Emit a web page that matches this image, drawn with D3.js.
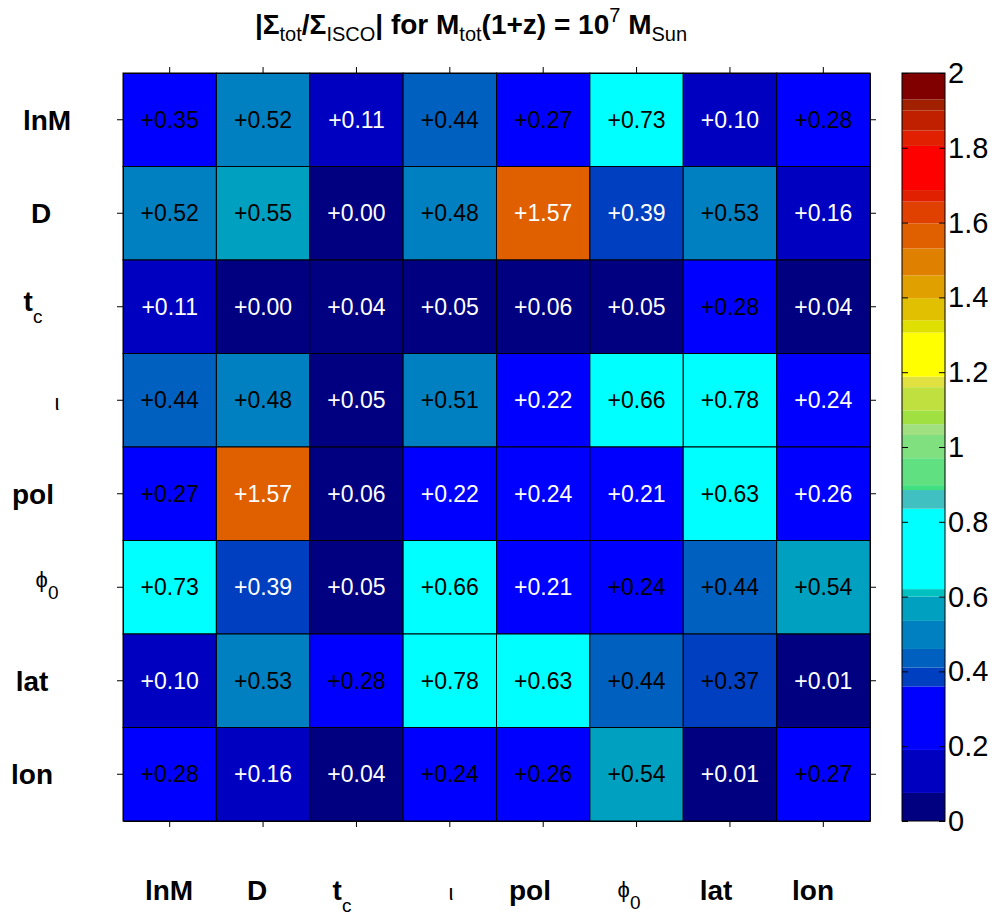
<!DOCTYPE html>
<html>
<head>
<meta charset="utf-8">
<script src="https://cdn.jsdelivr.net/npm/d3@7"></script>
<style>
  html, body { margin: 0; padding: 0; background: #fff; }
  svg text { font-family: "Liberation Sans", Arial, Helvetica, sans-serif; }
</style>
</head>
<body>
<svg id="chart" width="1000" height="915"></svg>
<script>
// Parameter names ("_" marks a subscript)
const params = ["lnM", "D", "t_c", "ι", "pol", "ϕ_0", "lat", "lon"];

// |Σtot/ΣISCO| ratio matrix, one row per parameter
const rowLnM = [0.35, 0.52, 0.11, 0.44, 0.27, 0.73, 0.10, 0.28];
const rowD   = [0.52, 0.55, 0.00, 0.48, 1.57, 0.39, 0.53, 0.16];
const rowTc  = [0.11, 0.00, 0.04, 0.05, 0.06, 0.05, 0.28, 0.04];
const rowIota= [0.44, 0.48, 0.05, 0.51, 0.22, 0.66, 0.78, 0.24];
const rowPol = [0.27, 1.57, 0.06, 0.22, 0.24, 0.21, 0.63, 0.26];
const rowPhi = [0.73, 0.39, 0.05, 0.66, 0.21, 0.24, 0.44, 0.54];
const rowLat = [0.10, 0.53, 0.28, 0.78, 0.63, 0.44, 0.37, 0.01];
const rowLon = [0.28, 0.16, 0.04, 0.24, 0.26, 0.54, 0.01, 0.27];
const matrix = [rowLnM, rowD, rowTc, rowIota, rowPol, rowPhi, rowLat, rowLon];

// Colour bar ticks
const cbarTicks = [0, 0.2, 0.4, 0.6, 0.8, 1, 1.2, 1.4, 1.6, 1.8, 2];

// Stepped colour map: band edges and band colours (low to high)
const bandEdges = [0, 0.075, 0.19, 0.36, 0.41, 0.46, 0.535, 0.6, 0.62, 0.835, 0.885,
  0.898, 0.97, 1.032, 1.061, 1.098, 1.16, 1.188, 1.306, 1.339, 1.398, 1.459, 1.531,
  1.598, 1.656, 1.687, 1.805, 1.846, 1.9, 1.929, 2.0];
const bandColors = ["#000080", "#0000C0", "#0000FF", "#0040C0", "#0060C0", "#0080C0",
  "#00A0C0", "#00C0C0", "#00FFFF", "#40C0C0", "#40E080", "#60E080", "#80E080", "#A0E080",
  "#A0E040", "#C0E040", "#E0E040", "#FFFF00", "#E0E000", "#E0C000", "#E0A000", "#E08000",
  "#E06000", "#E04000", "#E02000", "#FF0000", "#E02000", "#C02000", "#A02000", "#800000"];

// Cells whose value text is written in white (1) rather than black (0)
const whiteInk = [
  [0,0,1,0,0,0,1,0],
  [0,0,1,0,1,1,0,1],
  [1,1,1,1,1,1,0,1],
  [0,0,1,0,1,0,0,1],
  [0,1,1,1,1,1,0,1],
  [0,1,1,0,1,0,0,0],
  [1,0,0,0,0,0,0,1],
  [0,1,1,0,0,0,1,0]
];

// ---------- layout ----------
const svg = d3.select("#chart");
const plot = { left: 123, right: 870, top: 73, bottom: 821 };
const cbar = { left: 902, right: 945 };
const rowLabelX = [47, 41, 33, 57, 33, 47, 32, 32];
const colLabelX = [169, 257, 342, 451, 530, 629, 716, 813];

const x = d3.scaleBand().domain(params).range([plot.left, plot.right]);
const y = d3.scaleBand().domain(params).range([plot.top, plot.bottom]);
const color = d3.scaleThreshold().domain(bandEdges.slice(1, -1)).range(bandColors);
const cy = d3.scaleLinear().domain([0, 2]).range([plot.bottom, plot.top]);

const cells = [];
matrix.forEach((row, i) => row.forEach((v, j) => cells.push({ r: params[i], c: params[j], v, w: whiteInk[i][j] })));

// heat map cells
svg.append("g").selectAll("rect").data(cells).join("rect")
  .attr("x", d => x(d.c)).attr("y", d => y(d.r))
  .attr("width", x.bandwidth()).attr("height", y.bandwidth())
  .attr("fill", d => color(d.v))
  .attr("stroke", "#000").attr("stroke-width", 1);

// cell values
const fmt = d3.format("+.2f");
svg.append("g").selectAll("text").data(cells).join("text")
  .attr("x", d => x(d.c) + x.bandwidth() / 2)
  .attr("y", d => y(d.r) + y.bandwidth() / 2 + 8)
  .attr("text-anchor", "middle")
  .attr("font-size", 23)
  .attr("fill", d => d.w ? "#fff" : "#000")
  .text(d => fmt(d.v));

// axes: outward ticks on all four sides
const noLabel = () => "";
svg.append("g").attr("transform", `translate(${plot.left},0)`)
  .call(d3.axisLeft(y).tickSize(6).tickSizeOuter(0).tickFormat(noLabel));
svg.append("g").attr("transform", `translate(${plot.right},0)`)
  .call(d3.axisRight(y).tickSize(6).tickSizeOuter(0).tickFormat(noLabel));
svg.append("g").attr("transform", `translate(0,${plot.top})`)
  .call(d3.axisTop(x).tickSize(6).tickSizeOuter(0).tickFormat(noLabel));
svg.append("g").attr("transform", `translate(0,${plot.bottom})`)
  .call(d3.axisBottom(x).tickSize(6).tickSizeOuter(0).tickFormat(noLabel));
svg.selectAll(".domain, .tick line").attr("stroke", "#000");

// parameter labels with optional subscripts
function paramLabel(g, name, cx, baseline) {
  const [main, sub] = name.split("_");
  const greek = /[\u0370-\u03ff]/.test(main);
  const t = g.append("text")
    .attr("x", cx).attr("y", baseline)
    .attr("text-anchor", "middle");
  t.append("tspan")
    .attr("font-size", greek ? 22 : 28)
    .attr("font-weight", greek ? "normal" : "bold")
    .text(main);
  if (sub) {
    t.append("tspan").attr("font-size", 19).attr("dy", 12).text(sub);
  }
}
const labels = svg.append("g");
params.forEach((p, i) => {
  paramLabel(labels, p, rowLabelX[i], y(p) + y.bandwidth() / 2 + (p === "t_c" ? 4 : (p === "ϕ_0" ? 0 : 10)));
  paramLabel(labels, p, colLabelX[i], p === "ϕ_0" ? 897 : 900);
});

// colour bar
const cb = svg.append("g");
cb.selectAll("rect").data(bandColors).join("rect")
  .attr("x", cbar.left).attr("width", cbar.right - cbar.left)
  .attr("y", (c, k) => cy(bandEdges[k + 1]))
  .attr("height", (c, k) => cy(bandEdges[k]) - cy(bandEdges[k + 1]))
  .attr("fill", c => c);
cb.append("rect")
  .attr("x", cbar.left).attr("y", plot.top)
  .attr("width", cbar.right - cbar.left).attr("height", plot.bottom - plot.top)
  .attr("fill", "none").attr("stroke", "#000");
cb.append("g").attr("transform", `translate(${cbar.left},0)`)
  .call(d3.axisRight(cy).tickValues(cbarTicks).tickSize(6).tickFormat(noLabel))
  .call(g => g.select(".domain").remove());
cb.append("g").attr("transform", `translate(${cbar.right},0)`)
  .call(d3.axisLeft(cy).tickValues(cbarTicks).tickSize(6).tickFormat(noLabel))
  .call(g => g.select(".domain").remove());
cb.selectAll(".tick line").attr("stroke", "#000");
cb.append("g").selectAll("text").data(cbarTicks).join("text")
  .attr("x", cbar.right + 3).attr("y", d => cy(d) + 10)
  .attr("font-size", 29)
  .text(d => d3.format("")(d));

// title
const title = svg.append("text")
  .attr("x", 471).attr("y", 34)
  .attr("text-anchor", "middle")
  .attr("font-size", 28).attr("font-weight", "bold");
const parts = [
  ["|Σ", 0], ["tot", 1], ["/Σ", 0], ["ISCO", 1], ["| for M", 0], ["tot", 1],
  ["(1+z) = 10", 0], ["7", -1], [" M", 0], ["Sun", 1]
];
let shift = 0;
parts.forEach(([s, kind]) => {
  const target = kind === 1 ? 7 : (kind === -1 ? -12 : 0);
  const ts = title.append("tspan").attr("dy", target - shift).text(s);
  if (kind !== 0) ts.attr("font-size", 20).attr("font-weight", "normal");
  shift = target;
});
</script>
</body>
</html>
